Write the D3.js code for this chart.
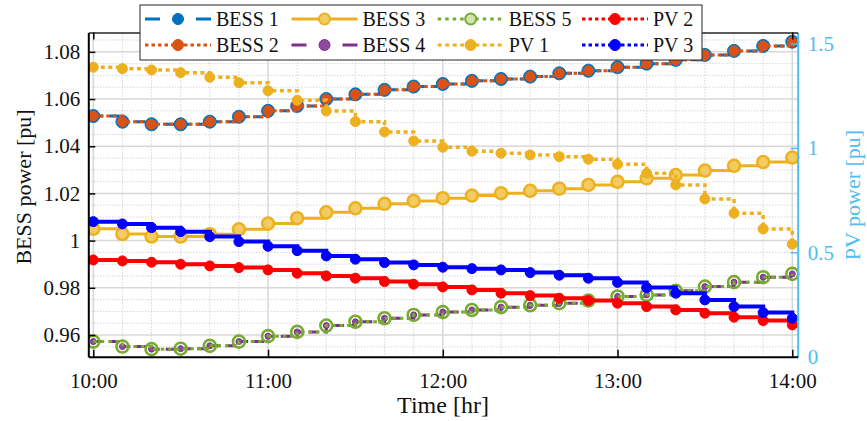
<!DOCTYPE html>
<html>
<head>
<meta charset="utf-8">
<script src="https://cdn.jsdelivr.net/npm/d3@7"></script>
<style>
  html, body { margin: 0; padding: 0; background: #fff; }
  svg, svg text { font-family: "Liberation Serif", "Times New Roman", serif; }
  svg { display: block; }
</style>
</head>
<body>
<svg id="chart" width="867" height="421"></svg>
<script>
// Sample times (10-minute steps)
const timeLabels = ["10:00","10:10","10:20","10:30","10:40","10:50",
                    "11:00","11:10","11:20","11:30","11:40","11:50",
                    "12:00","12:10","12:20","12:30","12:40","12:50",
                    "13:00","13:10","13:20","13:30","13:40","13:50","14:00"];

// Battery power, left axis [pu]
const bess1 = [1.0528,1.0504,1.0493,1.0493,1.0504,1.0525,1.0550,1.0571,1.0600,1.0620,1.0639,1.0653,1.0664,
               1.0677,1.0685,1.0695,1.0709,1.0720,1.0735,1.0750,1.0766,1.0787,1.0804,1.0825,1.0843];
const bess2 = [1.0528,1.0504,1.0493,1.0493,1.0504,1.0525,1.0550,1.0571,1.0600,1.0620,1.0639,1.0653,1.0664,
               1.0677,1.0685,1.0695,1.0709,1.0720,1.0735,1.0750,1.0766,1.0787,1.0804,1.0825,1.0843];
const bess3 = [1.0050,1.0028,1.0017,1.0017,1.0027,1.0048,1.0072,1.0095,1.0120,1.0137,1.0156,1.0168,1.0180,
               1.0191,1.0201,1.0211,1.0220,1.0236,1.0249,1.0264,1.0278,1.0297,1.0317,1.0333,1.0352];
const bess4 = [0.9572,0.9551,0.9540,0.9542,0.9554,0.9572,0.9595,0.9613,0.9640,0.9656,0.9671,0.9685,0.9697,
               0.9706,0.9718,0.9726,0.9735,0.9746,0.9763,0.9770,0.9787,0.9805,0.9824,0.9845,0.9859];
const bess5 = [0.9572,0.9551,0.9540,0.9542,0.9554,0.9572,0.9595,0.9613,0.9640,0.9656,0.9671,0.9685,0.9697,
               0.9706,0.9718,0.9726,0.9735,0.9746,0.9763,0.9770,0.9787,0.9805,0.9824,0.9845,0.9859];

// PV power, right axis [pu]
const pv1 = [1.3865,1.3798,1.3736,1.3606,1.3386,1.3128,1.2744,1.2285,1.1772,1.1260,1.0766,1.0335,1.0034,
             0.9842,0.9746,0.9665,0.9583,0.9459,0.9219,0.8788,0.8228,0.7557,0.6872,0.6121,0.5388];
const pv2 = [0.4636,0.4588,0.4526,0.4430,0.4349,0.4267,0.4157,0.3999,0.3870,0.3760,0.3597,0.3472,0.3343,
             0.3199,0.3041,0.2926,0.2802,0.2687,0.2562,0.2399,0.2241,0.2083,0.1892,0.1729,0.1523];
const pv3 = [0.6470,0.6360,0.6183,0.5991,0.5752,0.5513,0.5290,0.5081,0.4828,0.4670,0.4507,0.4397,0.4286,
             0.4219,0.4157,0.4028,0.3903,0.3760,0.3558,0.3309,0.3041,0.2720,0.2399,0.2112,0.1844];

// Axis ticks
const xTickLabels = ["10:00","11:00","12:00","13:00","14:00"];
const leftTicks = [0.96, 0.98, 1, 1.02, 1.04, 1.06, 1.08];
const leftTickLabels = ["0.96","0.98","1","1.02","1.04","1.06","1.08"];
const rightTicks = [0, 0.5, 1, 1.5];
const rightTickLabels = ["0","0.5","1","1.5"];

const toHours = s => { const [h, m] = s.split(":").map(Number); return h + m / 60; };
const hours = timeLabels.map(toHours);

const svg = d3.select("#chart");
const plot = { left: 88.3, right: 797.7, top: 32.5, bottom: 356.7 };
const rightColor = "#4DBEEE";
const serif = "Liberation Serif, Times New Roman, serif";

const x = d3.scaleLinear().domain([9.9714, 14.031]).range([plot.left, plot.right]);
const yL = d3.scaleLinear().domain([0.9508, 1.0882]).range([plot.bottom, plot.top]);
const yR = d3.scaleLinear().domain([0, 1.553]).range([plot.bottom, plot.top]);

// Grid: minor dotted, major solid
const grid = svg.append("g");
const minorY = d3.range(0.955, 1.0875, 0.005).filter(v => Math.abs(Math.round(v * 50) - v * 50) > 1e-6);
grid.selectAll("line.my").data(minorY).join("line")
  .attr("x1", plot.left).attr("x2", plot.right)
  .attr("y1", d => yL(d)).attr("y2", d => yL(d))
  .attr("stroke", "#c4c4c4").attr("stroke-width", 1).attr("stroke-dasharray", "1,2");
const minorX = hours.filter(h => Math.abs(h - Math.round(h)) > 1e-6);
grid.selectAll("line.mx").data(minorX).join("line")
  .attr("y1", plot.top).attr("y2", plot.bottom)
  .attr("x1", d => x(d)).attr("x2", d => x(d))
  .attr("stroke", "#c4c4c4").attr("stroke-width", 1).attr("stroke-dasharray", "1,2");
grid.selectAll("line.My").data(leftTicks).join("line")
  .attr("x1", plot.left).attr("x2", plot.right)
  .attr("y1", d => yL(d)).attr("y2", d => yL(d))
  .attr("stroke", "#d8d8d8").attr("stroke-width", 1.5);
const xTickVals = xTickLabels.map(toHours);
grid.selectAll("line.Mx").data(xTickVals).join("line")
  .attr("y1", plot.top).attr("y2", plot.bottom)
  .attr("x1", d => x(d)).attr("x2", d => x(d))
  .attr("stroke", "#d8d8d8").attr("stroke-width", 1.5);

// Series styles
const series = [
  { name: "BESS 1", data: bess1, y: yL, color: "#0072BD", width: 3, dash: "10,6", marker: { r: 6.5, fill: "#0072BD", stroke: "#0072BD", sw: 1 } },
  { name: "BESS 2", data: bess2, y: yL, color: "#D95319", width: 3, dash: "3.5,3", marker: { r: 5, fill: "#D95319", stroke: "#D95319", sw: 1 } },
  { name: "BESS 3", data: bess3, y: yL, color: "#EDB120", width: 3, dash: null, marker: { r: 6, fill: "#F3CB63", stroke: "#EDB120", sw: 2.5 } },
  { name: "BESS 4", data: bess4, y: yL, color: "#7E2F8E", width: 3, dash: "10,6", marker: { r: 3, fill: "#8E4A9C", stroke: "#7E2F8E", sw: 1 } },
  { name: "BESS 5", data: bess5, y: yL, color: "#77AC30", width: 3, dash: "3.5,4", marker: { r: 6, fill: "none", stroke: "#77AC30", sw: 2.6 } },
  { name: "PV 1",   data: pv1,   y: yR, color: "#EDB120", width: 3.5, dash: "4,3.5", marker: { r: 5, fill: "#EDB120", stroke: "#EDB120", sw: 1 } },
  { name: "PV 2",   data: pv2,   y: yR, color: "#FF0000", width: 4, dash: null, legendDash: "3.5,3", marker: { r: 5, fill: "#FF0000", stroke: "#FF0000", sw: 1 } },
  { name: "PV 3",   data: pv3,   y: yR, color: "#0000FF", width: 4, dash: null, legendDash: "3.5,3", marker: { r: 5, fill: "#0000FF", stroke: "#0000FF", sw: 1 } }
];

svg.append("clipPath").attr("id", "plotClip").append("rect")
  .attr("x", plot.left).attr("y", plot.top - 8)
  .attr("width", plot.right - plot.left + 8).attr("height", plot.bottom - plot.top + 8);

const marks = svg.append("g").attr("clip-path", "url(#plotClip)");
series.forEach(s => {
  const pts = s.data.map((v, i) => [hours[i], v]);
  const line = d3.line().curve(d3.curveStepAfter).x(d => x(d[0])).y(d => s.y(d[1]));
  const g = marks.append("g");
  g.append("path").attr("d", line(pts))
    .attr("fill", "none").attr("stroke", s.color).attr("stroke-width", s.width)
    .attr("stroke-dasharray", s.dash);
  g.selectAll("circle").data(pts).join("circle")
    .attr("cx", d => x(d[0])).attr("cy", d => s.y(d[1])).attr("r", s.marker.r)
    .attr("fill", s.marker.fill).attr("stroke", s.marker.stroke).attr("stroke-width", s.marker.sw);
});

// Axes
const fs = 21;
const styleText = sel => sel.attr("font-size", fs).style("font-family", serif);
const axL = svg.append("g").attr("transform", `translate(${plot.left},0)`)
  .call(d3.axisLeft(yL).tickValues(leftTicks).tickFormat((d, i) => leftTickLabels[i])
    .tickSizeInner(-7).tickSizeOuter(0).tickPadding(8));
axL.select(".domain").attr("stroke", "#000").attr("stroke-width", 2);
axL.selectAll(".tick line").attr("stroke", "#000").attr("stroke-width", 1.5);
axL.selectAll("text").call(styleText).attr("fill", "#111");

const axR = svg.append("g").attr("transform", `translate(${plot.right},0)`)
  .call(d3.axisRight(yR).tickValues(rightTicks).tickFormat((d, i) => rightTickLabels[i])
    .tickSizeInner(-7).tickSizeOuter(0).tickPadding(10));
axR.select(".domain").attr("stroke", rightColor).attr("stroke-width", 2);
axR.selectAll(".tick line").attr("stroke", rightColor).attr("stroke-width", 1.5);
axR.selectAll("text").call(styleText).attr("fill", rightColor);

const axB = svg.append("g").attr("transform", `translate(0,${plot.bottom})`)
  .call(d3.axisBottom(x).tickValues(xTickVals).tickFormat((d, i) => xTickLabels[i])
    .tickSizeInner(-7).tickSizeOuter(0).tickPadding(16));
axB.select(".domain").attr("stroke", "#000").attr("stroke-width", 2);
axB.selectAll(".tick line").attr("stroke", "#000").attr("stroke-width", 1.5);
axB.selectAll("text").call(styleText).attr("fill", "#111");

const axT = svg.append("g").attr("transform", `translate(0,${plot.top})`)
  .call(d3.axisTop(x).tickValues(xTickVals).tickFormat("").tickSizeInner(-7).tickSizeOuter(0));
axT.select(".domain").attr("stroke", "#262626").attr("stroke-width", 1.5);
axT.selectAll(".tick line").attr("stroke", "#000").attr("stroke-width", 1.5);

// Axis titles
svg.append("text").attr("transform", "translate(23,187) rotate(-90)")
  .attr("text-anchor", "middle").attr("dominant-baseline", "central")
  .attr("font-size", 22).attr("fill", "#111").text("BESS power [pu]");
svg.append("text").attr("transform", "translate(852,195) rotate(-90)")
  .attr("text-anchor", "middle").attr("dominant-baseline", "central")
  .attr("font-size", 22).attr("fill", rightColor).text("PV power [pu]");
svg.append("text").attr("x", 443).attr("y", 405)
  .attr("text-anchor", "middle").attr("dominant-baseline", "central")
  .attr("font-size", 24).attr("fill", "#111").text("Time [hr]");

// Legend (4 columns, column-major order)
const legend = svg.append("g");
legend.append("rect").attr("x", 140).attr("y", 5).attr("width", 562).attr("height", 55)
  .attr("fill", "#fff").attr("stroke", "#262626").attr("stroke-width", 1);
const colX = [145, 291.5, 437.7, 582];
const rowY = [19, 45];
const legendOrder = ["BESS 1","BESS 2","BESS 3","BESS 4","BESS 5","PV 1","PV 2","PV 3"];
legendOrder.forEach((name, k) => {
  const s = series.find(t => t.name === name);
  const cx = colX[Math.floor(k / 2)], cy = rowY[k % 2];
  const item = legend.append("g");
  const dash = s.legendDash || s.dash;
  item.append("line").attr("x1", cx).attr("x2", cx + 66).attr("y1", cy).attr("y2", cy)
    .attr("stroke", s.color).attr("stroke-width", 3)
    .attr("stroke-dasharray", dash === "10,6" ? "15,36,15" : dash);
  item.append("circle").attr("cx", cx + 33).attr("cy", cy).attr("r", 5.5)
    .attr("fill", s.marker.fill === "none" ? "#cfe3b3" : s.marker.fill)
    .attr("stroke", s.marker.stroke).attr("stroke-width", Math.min(s.marker.sw, 2));
  item.append("text").attr("x", cx + 71).attr("y", cy).attr("dominant-baseline", "central")
    .attr("font-size", 20).attr("fill", "#111").text(name);
});
</script>
</body>
</html>
